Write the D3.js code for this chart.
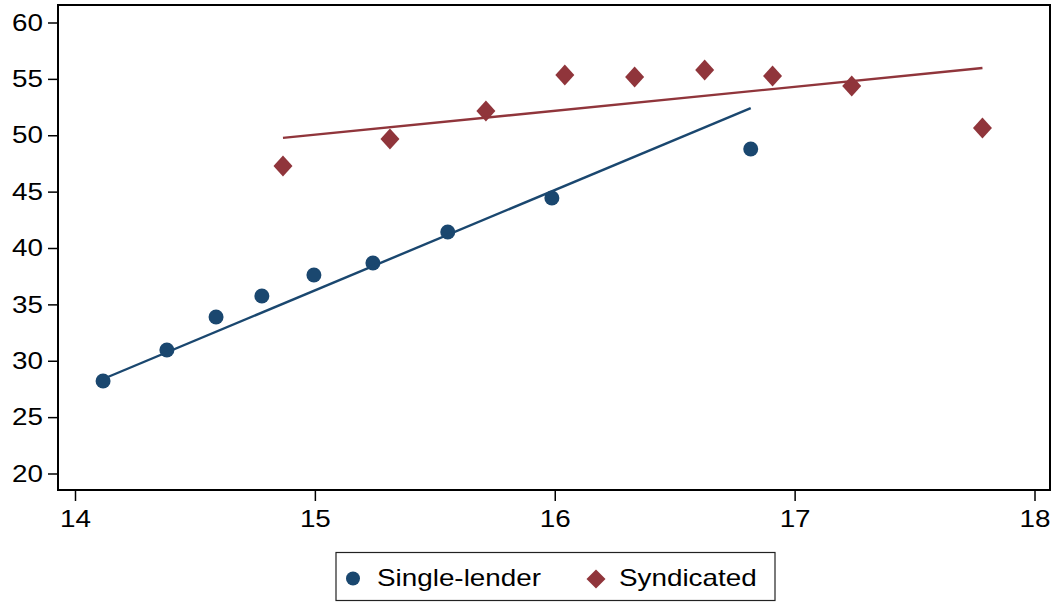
<!DOCTYPE html>
<html>
<head>
<meta charset="utf-8">
<script src="https://cdn.jsdelivr.net/npm/d3@7"></script>
<style>
  body { margin: 0; background: #fff; }
  text { font-family: "Liberation Sans", Arial, Helvetica, sans-serif; }
</style>
</head>
<body>
<svg id="chart" width="1055" height="602"></svg>
<script>
// Binned scatter values
var singleX = [14.117, 14.383, 14.588, 14.779, 14.996, 15.242, 15.554, 15.988, 16.817];
var singleY = [28.2, 30.95, 33.88, 35.74, 37.6, 38.67, 41.42, 44.43, 48.78];
var syndX = [14.867, 15.313, 15.713, 16.042, 16.333, 16.625, 16.908, 17.238, 17.783];
var syndY = [47.27, 49.67, 52.15, 55.34, 55.17, 55.79, 55.25, 54.37, 50.64];

// Linear fit lines: [intercept, slope], drawn over each series' x range
var singleFit = [-97.26, 8.90];
var syndFit = [18.17, 2.125];

var xTicks = [14, 15, 16, 17, 18];
var yTicks = [20, 25, 30, 35, 40, 45, 50, 55, 60];
var seriesNames = ["Single-lender", "Syndicated"];

var navy = "#1a476f", maroon = "#90353b";
var fontSize = 24, stretch = 1.16; // reference glyphs are wider than Liberation Sans

var svg = d3.select("#chart");

// plot region frame
var frame = { l: 58, t: 5, r: 1050, b: 490 };

var x = d3.scaleLinear().domain([14, 18]).range([75, 1034.5]);
var y = d3.scaleLinear().domain([20, 60]).range([473.5, 22.5]);

// y axis
svg.append("g")
    .attr("transform", "translate(" + frame.l + ",0)")
    .call(d3.axisLeft(y).tickValues(yTicks).tickFormat(d3.format("d")).tickSize(10))
    .call(g => g.select(".domain").remove())
    .call(g => g.selectAll(".tick line").attr("stroke", "#000").attr("stroke-width", 1.5))
    .call(g => g.selectAll(".tick text")
        .attr("x", 0)
        .attr("transform", "translate(-15,0) scale(" + stretch + ",1)")
        .attr("font-size", fontSize).attr("fill", "#000")
        .attr("font-family", "'Liberation Sans', Arial, sans-serif"));

// x axis
svg.append("g")
    .attr("transform", "translate(0," + frame.b + ")")
    .call(d3.axisBottom(x).tickValues(xTicks).tickFormat(d3.format("d")).tickSize(11))
    .call(g => g.select(".domain").remove())
    .call(g => g.selectAll(".tick line").attr("stroke", "#000").attr("stroke-width", 1.5))
    .call(g => g.selectAll(".tick text")
        .attr("y", 0)
        .attr("transform", "translate(0,20) scale(" + stretch + ",1)")
        .attr("font-size", fontSize).attr("fill", "#000")
        .attr("font-family", "'Liberation Sans', Arial, sans-serif"));

// frame
svg.append("rect")
    .attr("x", frame.l).attr("y", frame.t)
    .attr("width", frame.r - frame.l).attr("height", frame.b - frame.t)
    .attr("fill", "none").attr("stroke", "#000").attr("stroke-width", 2);

function fitLine(xs, fit, color) {
    var ends = d3.extent(xs).map(v => [v, fit[0] + fit[1] * v]);
    svg.append("path")
        .datum(ends)
        .attr("d", d3.line().x(d => x(d[0])).y(d => y(d[1])))
        .attr("fill", "none")
        .attr("stroke", color)
        .attr("stroke-width", 2.4);
}

var circle = d3.symbol().type(d3.symbolCircle).size(Math.PI * 7.5 * 7.5);
var diamond = "M0,-10.5L9.5,0L0,10.5L-9.5,0Z";

// single-lender
svg.append("g").selectAll("path")
    .data(d3.zip(singleX, singleY))
    .join("path")
    .attr("transform", d => "translate(" + x(d[0]) + "," + y(d[1]) + ")")
    .attr("d", circle)
    .attr("fill", navy);

// syndicated
svg.append("g").selectAll("path")
    .data(d3.zip(syndX, syndY))
    .join("path")
    .attr("transform", d => "translate(" + x(d[0]) + "," + y(d[1]) + ")")
    .attr("d", diamond)
    .attr("fill", maroon);

fitLine(singleX, singleFit, navy);
fitLine(syndX, syndFit, maroon);

// legend
var legend = svg.append("g");
legend.append("rect")
    .attr("x", 336).attr("y", 552.5)
    .attr("width", 439).attr("height", 48)
    .attr("fill", "#fff").attr("stroke", "#222").attr("stroke-width", 1.2);

legend.append("circle")
    .attr("cx", 353).attr("cy", 578.5).attr("r", 7)
    .attr("fill", navy);
legend.append("text")
    .attr("transform", "translate(377,586) scale(" + stretch + ",1)")
    .attr("font-size", fontSize)
    .text(seriesNames[0]);

legend.append("path")
    .attr("transform", "translate(596,579)")
    .attr("d", "M0,-9.5L9.5,0L0,9.5L-9.5,0Z")
    .attr("fill", maroon);
legend.append("text")
    .attr("transform", "translate(619,586) scale(" + stretch + ",1)")
    .attr("font-size", fontSize)
    .text(seriesNames[1]);
</script>
</body>
</html>
